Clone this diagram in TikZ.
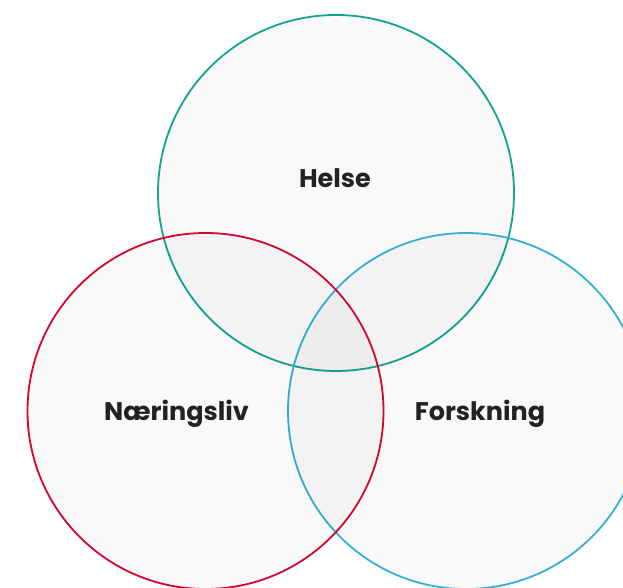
\documentclass[tikz,border=0pt]{standalone}
\usepackage{fontspec}
\setmainfont{Poppins}
\definecolor{helsegreen}{HTML}{12A58C}
\definecolor{naeringred}{HTML}{D3062F}
\definecolor{forskblue}{HTML}{36AED6}
\definecolor{labelgray}{HTML}{222222}
\begin{document}
\begin{tikzpicture}[x=1pt,y=1pt,
  venn/.style={circle, minimum size=356pt, inner sep=0pt, line width=1.8pt,
               fill=black, fill opacity=0.024, text opacity=1},
  lbl/.style={anchor=base, text=labelgray, font=\bfseries\fontsize{25.5}{30}\selectfont}]
\useasboundingbox (0,0) rectangle (623,588);
\fill[white] (0,0) rectangle (623,588);
% the three sets
\node[venn, draw=helsegreen] (helse) at (336,395) {};
\node[venn, draw=forskblue] (forsk) at (466,177) {};
\node[venn, draw=naeringred] (naering) at (205.5,177) {};
% set names
\node[lbl] (thelse) at (335,400) {Helse};
\node[lbl] (tnaering) at (176.5,167) {Næringsliv};
\node[lbl] (tforsk) at (480,167) {Forskning};
\end{tikzpicture}
\end{document}
